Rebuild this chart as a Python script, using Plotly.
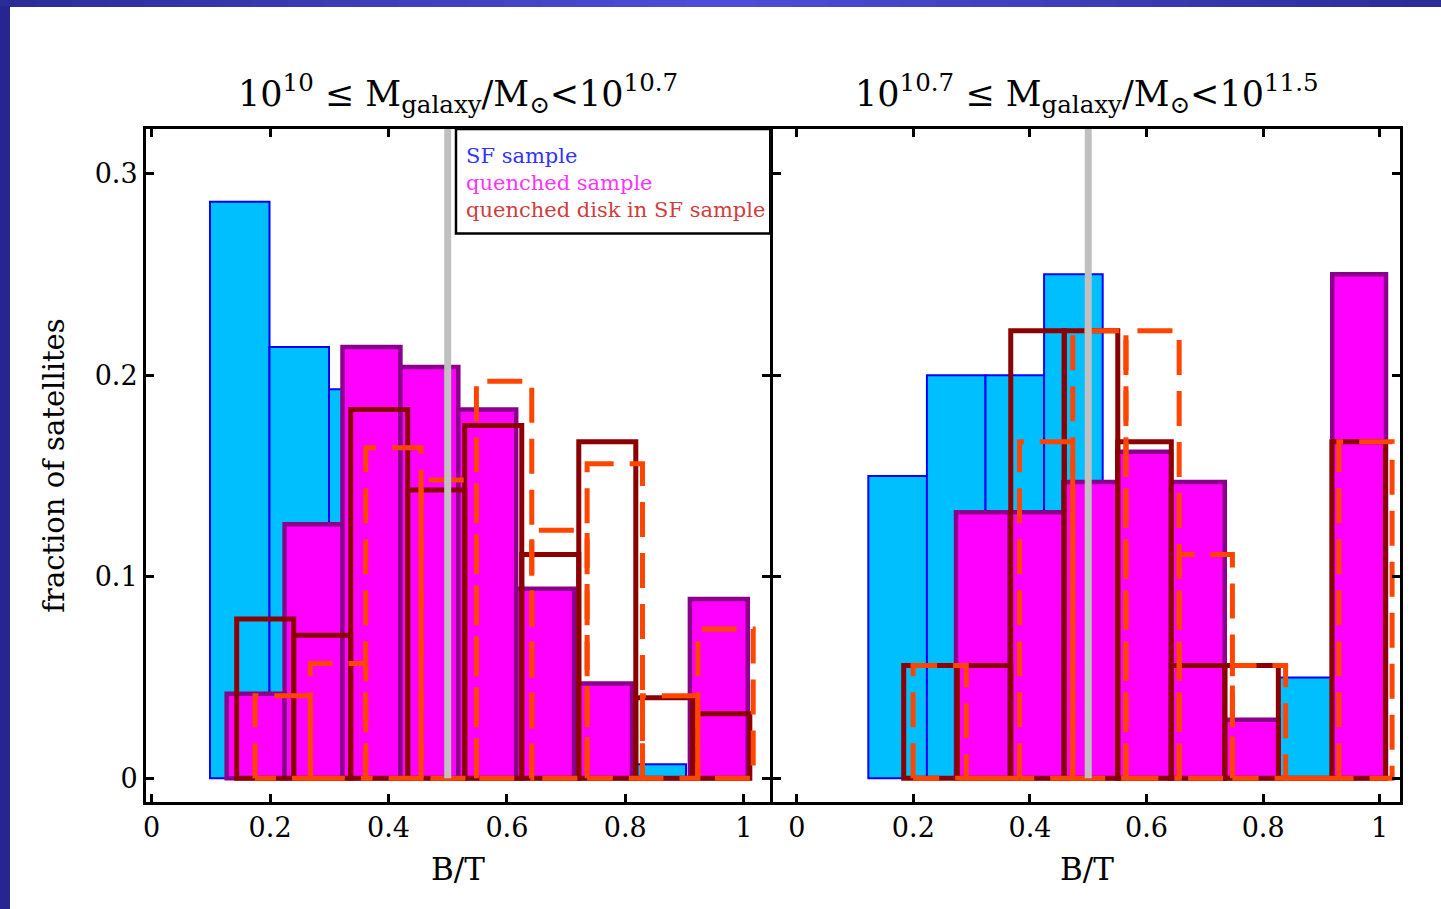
import plotly.graph_objects as go

# ---------------------------------------------------------------
# Fraction of satellites per B/T bin (each histogram: first bin edge, bin width, bin values)
# ---------------------------------------------------------------
# 10^10 <= M_galaxy/M_sun < 10^10.7
lo_sf_start, lo_sf_width = 0.0985, 0.1005
lo_sf = [0.286, 0.214, 0.193, 0.107, 0.100, 0.057, 0.036, 0.007, 0.0]
lo_q_start, lo_q_width = 0.1267, 0.0978
lo_q = [0.042, 0.126, 0.214, 0.204, 0.183, 0.094, 0.047, 0.0, 0.089]
lo_qd_start, lo_qd_width = 0.1436, 0.0963
lo_qd = [0.079, 0.071, 0.183, 0.143, 0.175, 0.111, 0.167, 0.040, 0.032]
lo_qd2_start, lo_qd2_width = 0.1745, 0.0935
lo_qd2 = [0.041, 0.057, 0.164, 0.148, 0.197, 0.123, 0.156, 0.041, 0.074]

# 10^10.7 <= M_galaxy/M_sun < 10^11.5
hi_sf_start, hi_sf_width = 0.1228, 0.1005
hi_sf = [0.15, 0.20, 0.20, 0.25, 0.10, 0.05, 0.0, 0.05, 0.0]
hi_q_start, hi_q_width = 0.2732, 0.0922
hi_q = [0.132, 0.132, 0.147, 0.162, 0.147, 0.029, 0.0, 0.25]
hi_qd_start, hi_qd_width = 0.1835, 0.0918
hi_qd = [0.056, 0.056, 0.222, 0.222, 0.167, 0.056, 0.056, 0.0, 0.167]
hi_qd2_start, hi_qd2_width = 0.1995, 0.0913
hi_qd2 = [0.056, 0.0, 0.167, 0.222, 0.222, 0.111, 0.056, 0.0, 0.167]

x_ticks = [0, 0.2, 0.4, 0.6, 0.8, 1.0]
x_tick_text = ["0", "0.2", "0.4", "0.6", "0.8", "1"]
y_ticks = [0, 0.1, 0.2, 0.3]
y_tick_text = ["0", "0.1", "0.2", "0.3"]
bt_divide = 0.5

titles = [
    "10<sup>10</sup> ≤ M<sub>galaxy</sub>/M<sub>⊙</sub>&lt;10<sup>10.7</sup>",
    "10<sup>10.7</sup> ≤ M<sub>galaxy</sub>/M<sub>⊙</sub>&lt;10<sup>11.5</sup>",
]
legend_labels = ["SF sample", "quenched sample", "quenched disk in SF sample"]

FONT = "DejaVu Serif"
SF_FILL, SF_LINE = "#00BFFF", "#0000FF"
Q_FILL, Q_LINE = "#FF00FF", "#8B008B"
QD_LINE = "#8B0000"
QD2_LINE = "#FF4500"


def hist_bars(start, width, vals, xa, ya, fill, line_color, line_width):
    centers = [start + (i + 0.5) * width for i in range(len(vals))]
    return go.Bar(
        x=centers, y=vals, width=[width] * len(vals),
        marker=dict(color=fill, line=dict(color=line_color, width=line_width)),
        xaxis=xa, yaxis=ya, showlegend=False, hoverinfo="skip",
    )


def dashed_hist(start, width, vals, xa, ya):
    xs, ys = [], []
    for i, v in enumerate(vals):
        left = start + i * width
        right = left + width
        xs += [left, left, right, right, left, None]
        ys += [0, v, v, 0, 0, None]
    return go.Scatter(
        x=xs, y=ys, mode="lines",
        line=dict(color=QD2_LINE, width=5, dash="35px,16px"),
        xaxis=xa, yaxis=ya, showlegend=False, hoverinfo="skip",
    )


fig = go.Figure()
for (sf, q, qd, qd2, xa, ya) in [
    ((lo_sf_start, lo_sf_width, lo_sf), (lo_q_start, lo_q_width, lo_q),
     (lo_qd_start, lo_qd_width, lo_qd), (lo_qd2_start, lo_qd2_width, lo_qd2), "x", "y"),
    ((hi_sf_start, hi_sf_width, hi_sf), (hi_q_start, hi_q_width, hi_q),
     (hi_qd_start, hi_qd_width, hi_qd), (hi_qd2_start, hi_qd2_width, hi_qd2), "x2", "y2"),
]:
    fig.add_trace(hist_bars(*sf, xa, ya, SF_FILL, SF_LINE, 2))
    fig.add_trace(hist_bars(*q, xa, ya, Q_FILL, Q_LINE, 4.5))
    fig.add_trace(hist_bars(*qd, xa, ya, "rgba(0,0,0,0)", QD_LINE, 5))
    fig.add_trace(dashed_hist(*qd2, xa, ya))

axis_common = dict(
    ticks="inside", ticklen=8, tickwidth=2.5, tickcolor="black",
    showline=True, linecolor="black", linewidth=3, mirror="ticks",
    showgrid=False, zeroline=False,
    tickfont=dict(family=FONT, size=27, color="black"),
)
y_range = [-0.01176, 0.3221]

fig.update_layout(
    width=1441, height=909,
    margin=dict(l=146, r=41, t=129, b=107),
    paper_bgcolor="white", plot_bgcolor="white",
    barmode="overlay", showlegend=False,
    xaxis=dict(domain=[0, 0.4978], range=[-0.0096, 1.0448], anchor="y",
               tickvals=x_ticks, ticktext=x_tick_text, **axis_common),
    yaxis=dict(domain=[0, 1], range=y_range, anchor="x",
               tickvals=y_ticks, ticktext=y_tick_text, **axis_common),
    xaxis2=dict(domain=[0.5002, 1], range=[-0.0403, 1.0348], anchor="y2",
                tickvals=x_ticks, ticktext=x_tick_text, **axis_common),
    yaxis2=dict(domain=[0, 1], range=y_range, anchor="x2",
                tickvals=y_ticks, showticklabels=False, **axis_common),
)

# B/T = 0.5 divider in both panels
for xa, ya in [("x", "y"), ("x2", "y2")]:
    fig.add_shape(type="line", xref=xa, yref=ya, x0=bt_divide, x1=bt_divide,
                  y0=0, y1=y_range[1], line=dict(color="#C0C0C0", width=7), layer="above")

# legend box in the left panel
fig.add_shape(type="rect", xref="x", yref="y", x0=0.514, x1=1.0448, y0=0.2703, y1=y_range[1],
              line=dict(color="black", width=2.5), fillcolor="white", layer="above")
legend_colors = ["#3333FF", "#FF33FF", "#CF3D3D"]
for i, (lab, col) in enumerate(zip(legend_labels, legend_colors)):
    fig.add_annotation(xref="x", yref="y", x=0.527, y=0.3085 - i * 0.0134, text=lab,
                       showarrow=False, xanchor="left", yanchor="middle",
                       font=dict(family=FONT, size=21, color=col))

# panel titles and axis titles
for i, t in enumerate(titles):
    dom = "x domain" if i == 0 else "x2 domain"
    fig.add_annotation(xref=dom, yref="paper", x=0.5, y=1.0533, text=t, showarrow=False,
                       xanchor="center", yanchor="middle",
                       font=dict(family=FONT, size=35, color="black"))
    fig.add_annotation(xref=dom, yref="paper", x=0.5, y=-0.099, text="B/T", showarrow=False,
                       xanchor="center", yanchor="middle",
                       font=dict(family=FONT, size=31, color="black"))
fig.add_annotation(xref="paper", yref="paper", x=-0.074, y=0.5, text="fraction of satellites",
                   textangle=-90, showarrow=False, xanchor="center", yanchor="middle",
                   font=dict(family=FONT, size=29, color="black"))

# slide frame: blue gradient bar on top, dark bar on the left
W, H, L, T, B, R = 1441, 909, 146, 129, 107, 41
pw, ph = W - L - R, H - T - B


def px_x(p):
    return (p - L) / pw


def px_y(p):
    return (H - B - p) / ph


dark = (44, 44, 150)
light = (78, 78, 218)
n_seg = 40
for k in range(n_seg):
    t = (k + 0.5) / n_seg
    w = 1 - abs(2 * t - 1)
    c = tuple(int(dark[j] + (light[j] - dark[j]) * w) for j in range(3))
    fig.add_shape(type="rect", xref="paper", yref="paper",
                  x0=px_x(W * k / n_seg), x1=px_x(W * (k + 1) / n_seg + 1),
                  y0=px_y(7), y1=px_y(0), line=dict(width=0),
                  fillcolor="rgb(%d,%d,%d)" % c, layer="above")
fig.add_shape(type="rect", xref="paper", yref="paper",
              x0=px_x(0), x1=px_x(10), y0=px_y(H), y1=px_y(6),
              line=dict(width=0), fillcolor="#27258F", layer="above")

fig.write_html("out.html")
